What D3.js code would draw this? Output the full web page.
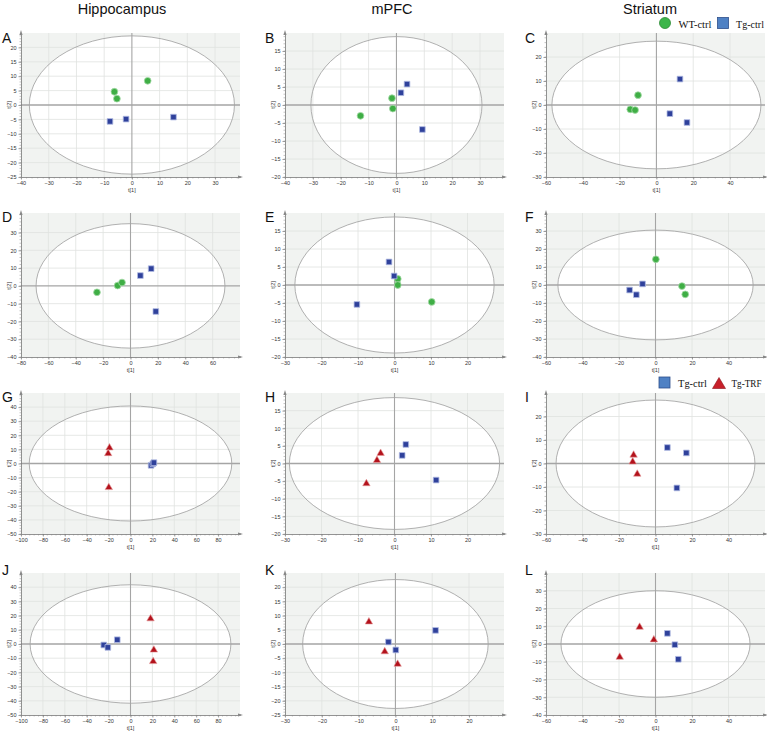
<!DOCTYPE html>
<html><head><meta charset="utf-8">
<script src="https://cdn.jsdelivr.net/npm/d3@7"></script>
<style>body{margin:0;background:#fff}</style>
</head><body><svg id="c" width="767" height="732"></svg>
<script>
// ---------- data ----------
const panelLetters = ["A","B","C","D","E","F","G","H","I","J","K","L"];
const columnTitles = ["Hippocampus","mPFC","Striatum"];
const legend1Labels = ["WT-ctrl","Tg-ctrl"];
const legend2Labels = ["Tg-ctrl","Tg-TRF"];
const xAxisLabel = "t[1]";
const yAxisLabel = "t[2]";

const xDomains = [[-40,39],[-40,38.6],[-60,59],[-80,80],[-30,30],[-60,60],[-100,100],[-30,30],[-60,60],[-100,100],[-30,29.5],[-60,60]];
const yDomains = [[-25,25],[-20,20],[-30,30],[-40,41],[-20,20],[-40,40],[-50,50],[-20,20],[-30,30],[-50,50],[-25,25],[-40,40]];

const xTicks = [
  [-40,-30,-20,-10,0,10,20,30],
  [-40,-30,-20,-10,0,10,20,30],
  [-60,-40,-20,0,20,40],
  [-80,-60,-40,-20,0,20,40,60],
  [-30,-20,-10,0,10,20],
  [-60,-40,-20,0,20,40],
  [-100,-80,-60,-40,-20,0,20,40,60,80],
  [-30,-20,-10,0,10,20],
  [-60,-40,-20,0,20,40],
  [-100,-80,-60,-40,-20,0,20,40,60,80],
  [-30,-20,-10,0,10,20],
  [-60,-40,-20,0,20,40]
];
const yTicks = [
  [-25,-20,-15,-10,-5,0,5,10,15,20],
  [-20,-15,-10,-5,0,5,10,15],
  [-30,-20,-10,0,10,20],
  [-40,-30,-20,-10,0,10,20,30],
  [-20,-15,-10,-5,0,5,10,15],
  [-40,-30,-20,-10,0,10,20,30],
  [-50,-40,-30,-20,-10,0,10,20,30,40],
  [-20,-15,-10,-5,0,5,10,15],
  [-30,-20,-10,0,10,20],
  [-50,-40,-30,-20,-10,0,10,20,30,40],
  [-25,-20,-15,-10,-5,0,5,10,15,20],
  [-40,-30,-20,-10,0,10,20,30]
];

// Hotelling T2 ellipse half-axes (in score units)
const ellipseRx = [37,30.7,56.8,69,27.3,53.5,92.5,28.8,54.5,91.7,25.2,51.8];
const ellipseRy = [24,19,26.6,35,18.9,30.5,40.8,18.7,27,41.7,22.7,30];

// scores per panel [t1, t2]
const wtCtrl = [
  [[-6.3,4.6],[-5.4,2.2],[5.7,8.4]],
  [[-12.9,-3.0],[-1.6,1.9],[-1.3,-1.0]],
  [[-14.2,-1.8],[-11.6,-2.1],[-10,4.1]],
  [[-24.5,-3.6],[-9.4,0.2],[-6.2,1.9]],
  [[0.9,1.7],[0.9,0],[10.2,-4.7]],
  [[0.2,14.3],[14.5,-0.6],[16.3,-5.2]],
  [],[],[],[],[],[]
];
const tgCtrl = [
  [[-7.9,-5.7],[-2.1,-4.9],[15,-4.2]],
  [[1.6,3.4],[3.8,5.8],[9.3,-6.8]],
  [[12.8,10.8],[7.3,-3.6],[16.6,-7.3]],
  [[7.2,5.8],[15.1,9.7],[18.5,-14.4]],
  [[-1.5,6.4],[-0.1,2.5],[-10.3,-5.4]],
  [[-7.1,0.6],[-14.2,-2.8],[-10.5,-5.4]],
  [[18.8,-1.3],[20.4,-0.2],[21.4,0.6]],
  [[3.1,5.4],[2.1,2.3],[11.4,-4.7]],
  [[6.5,6.8],[16.9,4.5],[11.7,-10.4]],
  [[-24.4,-0.7],[-20.7,-2.4],[-12.1,3.0]],
  [[-1.9,0.7],[0.1,-2.1],[10.9,4.8]],
  [[6.5,6.0],[10.6,-0.4],[12.5,-8.6]]
];
const tgTrf = [
  [],[],[],[],[],[],
  [[-19.2,11.1],[-20.4,7.1],[-19.8,-17]],
  [[-3.8,2.9],[-4.8,0.9],[-7.7,-5.7]],
  [[-12,3.6],[-12.5,0.7],[-10,-4.5]],
  [[18.3,17.8],[21.3,-4.2],[20.7,-12.3]],
  [[-7.2,7.8],[-2.9,-2.7],[0.6,-7.1]],
  [[-8.7,9.5],[-0.9,2.4],[-19.6,-7.4]]
];

// ---------- layout ----------
const colLeft = [21, 285, 546];
const rowTop = [33, 213, 393, 573];
const rowBottom = [177, 357, 534, 715];
const plotW = 219;
const letterX = [2, 265, 525];
const letterY = [43, 222, 402, 575];
const titleX = [122, 392, 650];

const C_GREEN = "#3fae45", C_GREEN_S = "#a6dba8";
const C_BLUE = "#2f419b", C_BLUE_S = "#b3bde3";
const C_RED = "#b3121c", C_RED_S = "#e69a9a";

const svg = d3.select("#c");

svg.selectAll("text.title").data(columnTitles).join("text")
  .attr("class","title")
  .attr("x",(d,i)=>titleX[i]).attr("y",13.5)
  .attr("text-anchor","middle")
  .attr("font-family","Liberation Sans, Arial, sans-serif")
  .attr("font-size",14.5).attr("fill","#111")
  .text(d=>d);

panelLetters.forEach((letter, i) => {
  const col = i % 3, row = Math.floor(i / 3);
  const left = colLeft[col], top = rowTop[row], bottom = rowBottom[row];
  const x = d3.scaleLinear().domain(xDomains[i]).range([left, left + plotW]);
  const y = d3.scaleLinear().domain(yDomains[i]).range([bottom, top]);
  const g = svg.append("g");

  g.append("rect").attr("x", left).attr("y", top)
    .attr("width", plotW).attr("height", bottom - top)
    .attr("fill", "#f1f3f1");

  const cx = x(0), cy = y(0);
  const rx = x(ellipseRx[i]) - x(0), ry = y(0) - y(ellipseRy[i]);
  g.append("ellipse").attr("cx", cx).attr("cy", cy).attr("rx", rx).attr("ry", ry)
    .attr("fill", "#ffffff");

  g.selectAll("line.gx").data(xTicks[i].filter(v => v !== 0 && v !== xDomains[i][0])).join("line")
    .attr("x1", d => x(d)).attr("x2", d => x(d)).attr("y1", top).attr("y2", bottom)
    .attr("stroke", "#dfe2df").attr("stroke-width", 0.8);
  g.selectAll("line.gy").data(yTicks[i].filter(v => v !== 0 && v !== yDomains[i][0])).join("line")
    .attr("y1", d => y(d)).attr("y2", d => y(d)).attr("x1", left).attr("x2", left + plotW)
    .attr("stroke", "#dfe2df").attr("stroke-width", 0.8);

  g.append("ellipse").attr("cx", cx).attr("cy", cy).attr("rx", rx).attr("ry", ry)
    .attr("fill", "none").attr("stroke", "#9d9d9d").attr("stroke-width", 0.8);

  g.append("line").attr("x1", left).attr("x2", left + plotW).attr("y1", cy).attr("y2", cy)
    .attr("stroke", "#a5a5a5").attr("stroke-width", 1.3);
  g.append("line").attr("x1", cx).attr("x2", cx).attr("y1", top).attr("y2", bottom)
    .attr("stroke", "#a5a5a5").attr("stroke-width", 1.1);

  const xAxis = d3.axisBottom(x).tickValues(xTicks[i]).tickSize(2.5).tickSizeOuter(0).tickPadding(2);
  const yAxis = d3.axisLeft(y).tickValues(yTicks[i]).tickSize(2.5).tickSizeOuter(0).tickPadding(2);
  const gx = g.append("g").attr("transform", `translate(0,${bottom})`).call(xAxis);
  const gy = g.append("g").attr("transform", `translate(${left},0)`).call(yAxis);
  [gx, gy].forEach(a => {
    a.attr("font-size", 5.5).attr("font-family", "Liberation Sans, Arial, sans-serif");
    a.select(".domain").attr("stroke", "#777").attr("stroke-width", 0.8);
    a.selectAll(".tick line").attr("stroke", "#777").attr("stroke-width", 0.7);
    a.selectAll(".tick text").attr("fill", "#333");
  });
  const xs = xTicks[i][1] - xTicks[i][0], ys = yTicks[i][1] - yTicks[i][0];
  const xm = d3.range(xDomains[i][0], xDomains[i][1], xs / 5);
  const ym = d3.range(yDomains[i][0], yDomains[i][1], ys / 5);
  g.selectAll("line.mx").data(xm).join("line")
    .attr("x1", d => x(d)).attr("x2", d => x(d)).attr("y1", bottom).attr("y2", bottom + 1.5)
    .attr("stroke", "#888").attr("stroke-width", 0.5);
  g.selectAll("line.my").data(ym).join("line")
    .attr("y1", d => y(d)).attr("y2", d => y(d)).attr("x1", left).attr("x2", left - 1.5)
    .attr("stroke", "#888").attr("stroke-width", 0.5);
  g.append("path").attr("d", `M${left + plotW + 3},${bottom} l-5,-1.6 l0,3.2 z`).attr("fill", "#888");
  g.append("line").attr("x1", left + plotW - 2).attr("x2", left + plotW + 1).attr("y1", bottom).attr("y2", bottom).attr("stroke", "#888").attr("stroke-width", 0.8);
  g.append("path").attr("d", `M${left},${top - 3} l-1.6,5 l3.2,0 z`).attr("fill", "#888");

  g.append("text").attr("x", x(0)).attr("y", bottom + 14.5).attr("text-anchor", "middle")
    .attr("font-size", 5.5).attr("font-family", "Liberation Sans, Arial, sans-serif").attr("fill", "#333")
    .text(xAxisLabel);
  g.append("text").attr("transform", `translate(${left - 10},${y(0)}) rotate(-90)`)
    .attr("text-anchor", "middle").attr("font-size", 5.5)
    .attr("font-family", "Liberation Sans, Arial, sans-serif").attr("fill", "#333")
    .text(yAxisLabel);

  svg.append("text").attr("x", letterX[col]).attr("y", letterY[row])
    .attr("font-family", "Liberation Sans, Arial, sans-serif").attr("font-size", 14)
    .attr("fill", "#111").text(letter);

  g.selectAll("path.circ").data(wtCtrl[i]).join("path")
    .attr("d", d3.symbol(d3.symbolCircle, 36))
    .attr("transform", d => `translate(${x(d[0])},${y(d[1])})`)
    .attr("fill", C_GREEN).attr("stroke", C_GREEN_S).attr("stroke-width", 0.8);
  g.selectAll("path.sq").data(tgCtrl[i]).join("path")
    .attr("d", d3.symbol(d3.symbolSquare, 32))
    .attr("transform", d => `translate(${x(d[0])},${y(d[1])})`)
    .attr("fill", C_BLUE).attr("stroke", C_BLUE_S).attr("stroke-width", 0.8);
  g.selectAll("path.tri").data(tgTrf[i]).join("path")
    .attr("d", d3.symbol(d3.symbolTriangle, 24))
    .attr("transform", d => `translate(${x(d[0])},${y(d[1])})`)
    .attr("fill", C_RED).attr("stroke", C_RED_S).attr("stroke-width", 0.6);
});

// legends
const serif = "Liberation Serif, Times New Roman, serif";
function legendText(sel, x, y, txt, len) {
  sel.append("text").attr("x", x).attr("y", y).attr("font-family", serif).attr("font-size", 10.5)
    .attr("fill", "#111").attr("textLength", len).attr("lengthAdjust", "spacingAndGlyphs").text(txt);
}
const lg1 = svg.append("g");
lg1.append("circle").attr("cx", 665).attr("cy", 23).attr("r", 5.5)
  .attr("fill", "#3cb54a").attr("stroke", "#2b8a33").attr("stroke-width", 0.8);
legendText(lg1, 678.5, 27.5, legend1Labels[0], 33);
lg1.append("rect").attr("x", 717.5).attr("y", 17.5).attr("width", 11).attr("height", 11)
  .attr("fill", "#4f81c4").attr("stroke", "#2d4f8c").attr("stroke-width", 0.8);
legendText(lg1, 736, 27.5, legend1Labels[1], 28);

const lg2 = svg.append("g");
lg2.append("rect").attr("x", 659).attr("y", 377).attr("width", 11).attr("height", 11)
  .attr("fill", "#4f81c4").attr("stroke", "#2d4f8c").attr("stroke-width", 0.8);
legendText(lg2, 678, 386.5, legend2Labels[0], 29);
lg2.append("path").attr("d", "M719,377.5 L725.5,388.5 L712.5,388.5 Z")
  .attr("fill", "#c8202a").attr("stroke", "#8c1018").attr("stroke-width", 0.6);
legendText(lg2, 731.5, 386.5, legend2Labels[1], 30);
</script>
</body></html>
